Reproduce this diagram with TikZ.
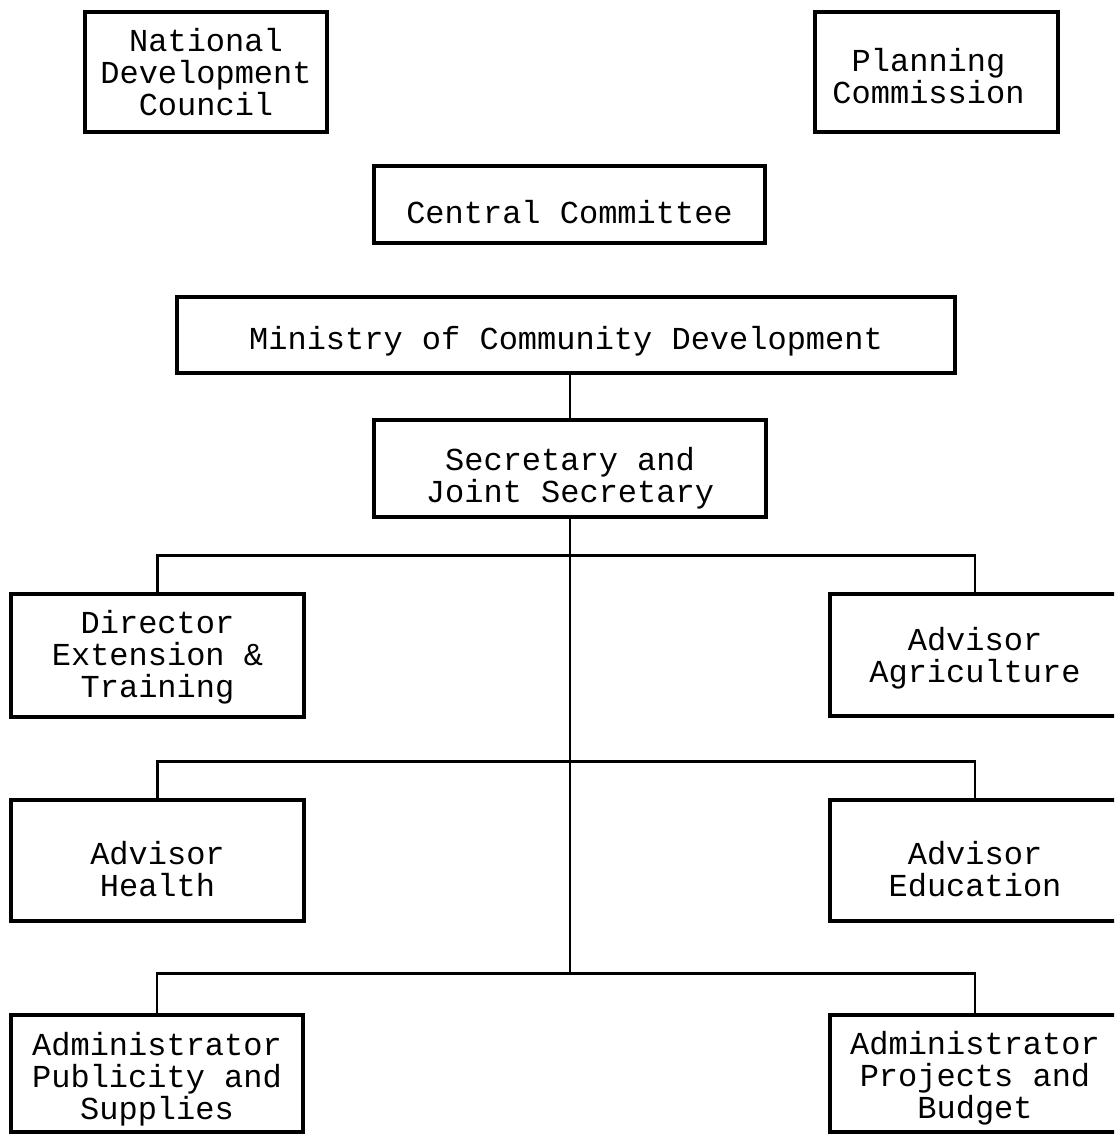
\documentclass[tikz,border=0pt]{standalone}
\usepackage{fontspec}
\newfontfamily\tw{Liberation Mono}
\newcommand\dn[1]{\rule{0pt}{\dimexpr\fontcharht\font`\l+#1\relax}}
\begin{document}
\begin{tikzpicture}[x=1pt,y=-1pt,
  box/.style={draw, line width=3.2pt, inner sep=0pt, align=center,
    font=\tw\fontsize{32}{32}\selectfont},
  link/.style={line width=2.4pt}]
\clip (0,0) rectangle (1114,1134);
\fill[white] (0,0) rectangle (1114,1134);
\node[box, minimum width=242pt, minimum height=120pt] (ndc) at (206,72) {National\\Development\\Council};
\node[box, minimum width=243pt, minimum height=120pt] (pc) at (936.5,72) {\dn{8pt}Planning\hspace*{16pt}\\Commission\hspace*{16pt}};
\node[box, minimum width=391pt, minimum height=77pt] (cc) at (569.5,204.5) {\dn{16pt}Central Committee};
\node[box, minimum width=778pt, minimum height=76pt] (min) at (566,335) {\dn{12pt}Ministry of Community Development};
\node[box, minimum width=392pt, minimum height=97pt] (sec) at (570,468.5) {\dn{20pt}Secretary and\\Joint Secretary};
\node[box, minimum width=293pt, minimum height=123pt] (det) at (157.5,655.5) {\dn{4pt}Director\\Extension \&\\Training};
\node[box, minimum width=290pt, minimum height=122pt] (agr) at (975,655) {\dn{6pt}Advisor\\Agriculture};
\node[box, minimum width=293pt, minimum height=121pt] (hea) at (157.5,860.5) {\dn{18pt}Advisor\\Health};
\node[box, minimum width=290pt, minimum height=121pt] (edu) at (975,860.5) {\dn{18pt}Advisor\\Education};
\node[box, minimum width=292pt, minimum height=117pt] (pub) at (157,1073.5) {\dn{12pt}Administrator\\Publicity and\\Supplies};
\node[box, minimum width=290pt, minimum height=117pt] (prj) at (975,1073.5) {\dn{10pt}Administrator\\Projects and\\Budget};
\coordinate (j3) at (570,975);
\draw[link] (sec.north |- min.south) -- (sec.north);
\draw[link] (sec.south) -- (j3);
\draw[link] (det.north) -- ++(0,-37) -| (agr.north);
\draw[link] (hea.north) -- ++(0,-37) -| (edu.north);
\draw[link] (pub.north) -- ++(0,-40) -| (prj.north);
\end{tikzpicture}
\end{document}
